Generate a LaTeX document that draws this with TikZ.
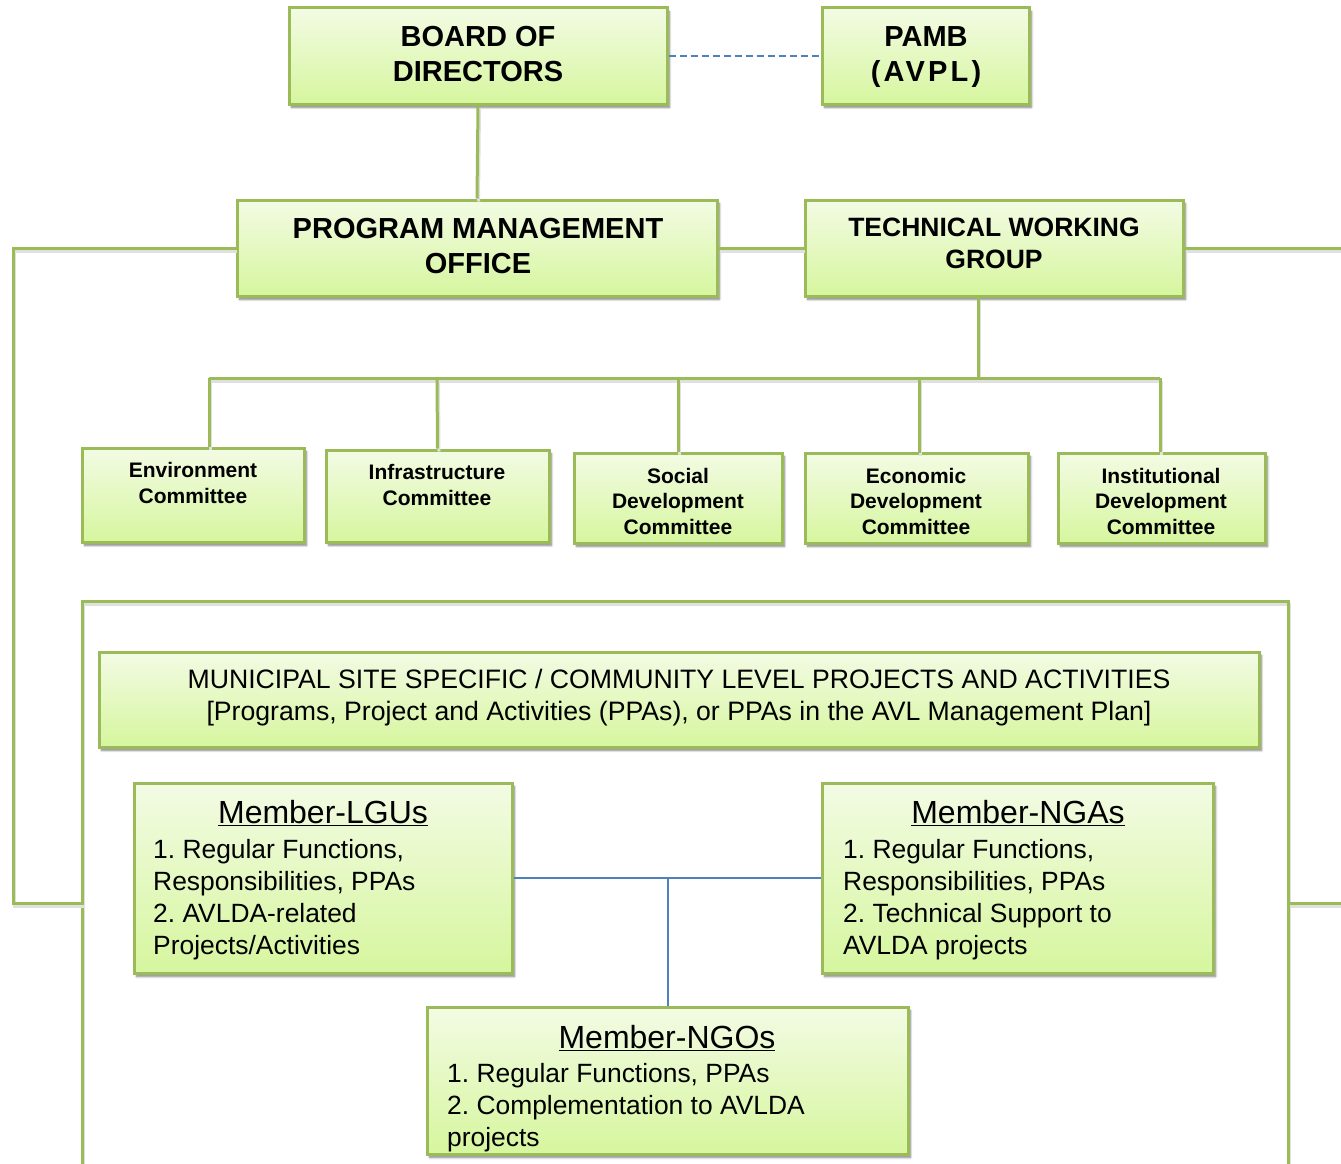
\documentclass[tikz,border=0pt]{standalone}
\usepackage{fontspec}
\setmainfont{Liberation Sans}
\usetikzlibrary{shadows,shadows.blur}
\definecolor{bgreen}{HTML}{9BBB59}
\definecolor{gtop}{RGB}{243,251,228}
\definecolor{gbot}{RGB}{214,246,158}
\definecolor{lblue}{HTML}{4F81BD}
\tikzset{
  obox/.style={draw=bgreen, line width=3pt, top color=gtop, bottom color=gbot, inner sep=0pt,
    blur shadow={shadow xshift=2.5pt, shadow yshift=-3.5pt, shadow blur steps=6, shadow opacity=50}},
  gline/.style={draw=bgreen, line width=3pt,
    preaction={draw=black!12, line width=3pt, transform canvas={shift={(1.5pt,-3pt)}}}},
  bline/.style={draw=lblue, line width=2pt},
  ttl/.style={font=\fontsize{29}{35}\selectfont\bfseries, align=center, inner sep=0pt},
  ttlb/.style={font=\fontsize{26.5}{32}\selectfont\bfseries, align=center, inner sep=0pt},
  cmt/.style={font=\fontsize{21}{25.5}\selectfont\bfseries, align=center, inner sep=0pt},
  mtitle/.style={font=\fontsize{32}{38}\selectfont, anchor=base, inner sep=0pt},
  mbody/.style={font=\fontsize{26.4}{32}\selectfont\frenchspacing, align=left, anchor=north west, inner sep=0pt},
}
\newcommand\mkbox[5]{\node[obox, minimum width={#4-#2}, minimum height={#5-#3}] (#1) at ({(#2+#4)/2},{(#3+#5)/2}) {};}
\begin{document}
\frenchspacing
\begin{tikzpicture}[x=1pt,y=-1pt]
\useasboundingbox (0,0) rectangle (1341,1164);
% outer open frame
\coordinate (outerL) at (82,903);
\coordinate (outerR) at (1288,903);
\draw[gline] (82,1175) -- (82,601) -- (1288,601) -- (1288,1175);

% boxes
\mkbox{bod}{289}{8}{667}{104}
\mkbox{pamb}{822}{8}{1029}{104}
\mkbox{pmo}{237}{200}{717}{296}
\mkbox{twg}{805}{200}{1183}{296}
\mkbox{env}{82}{448}{304}{542}
\mkbox{infra}{326}{450}{549}{542}
\mkbox{soc}{574}{453}{782}{543}
\mkbox{eco}{805}{453}{1028}{543}
\mkbox{inst}{1058}{453}{1265}{543}
\mkbox{muni}{99}{652}{1259}{747}
\mkbox{lgu}{134}{783}{512}{973}
\mkbox{nga}{822}{783}{1213}{973}
\mkbox{ngo}{427}{1007}{908}{1154}

% texts
\node[ttl] (bodT) at (478,54) {BOARD OF\\DIRECTORS};
\node[ttl] (pambT) at (926,57) {PAMB\\{\addfontfeature{LetterSpace=11}(AVPL)}};
\node[ttl] (pmoT) at (478,246) {PROGRAM MANAGEMENT\\OFFICE};
\node[ttlb] (twgT) at (994,243) {TECHNICAL WORKING\\GROUP};
\node[cmt] (envT) at (193,483) {Environment\\Committee};
\node[cmt] (infraT) at (437,485) {Infrastructure\\Committee};
\node[cmt] (socT) at (678,501) {Social\\Development\\Committee};
\node[cmt] (ecoT) at (916,501) {Economic\\Development\\Committee};
\node[cmt] (instT) at (1161,501) {Institutional\\Development\\Committee};
\node[font=\fontsize{26.65}{32}\selectfont, align=center, inner sep=0pt] (muniT) at (679,698)
  {MUNICIPAL SITE SPECIFIC / COMMUNITY LEVEL PROJECTS AND ACTIVITIES\\
   {[}Programs, Project and Activities (PPAs), or PPAs in the AVL Management Plan{]}};

\node[mtitle] (lguH) at (323,823) {\underline{Member-LGUs}};
\node[mbody] (lguB) at (153,839) {1. Regular Functions,\\Responsibilities, PPAs\\2. AVLDA-related\\Projects/Activities};
\node[mtitle] (ngaH) at (1018,823) {\underline{Member-NGAs}};
\node[mbody] (ngaB) at (843,839) {1. Regular Functions,\\Responsibilities, PPAs\\2. Technical Support to\\AVLDA projects};
\node[mtitle] (ngoH) at (667,1048) {\underline{Member-NGOs}};
\node[mbody] (ngoB) at (447,1063) {1. Regular Functions, PPAs\\2. Complementation to AVLDA\\projects};

% connectors
\draw[gline] (bod.south) -- (pmo.north);
\draw[bline, dash pattern=on 7pt off 4pt] (bod.east) -- (pamb.west);
\draw[gline] (pmo.east) -- (twg.west);
\coordinate (busL) at (209,378);
\coordinate (busR) at (1160,378);
\coordinate (busM) at (978,378);
\draw[gline] (busM |- twg.south) -- (busM);
\draw[gline] (busL) -- (busR);
\draw[gline] (busL) -- (busL |- env.north);
\draw[gline] (437,378) -- (infra.north);
\draw[gline] (678,378) -- (soc.north);
\draw[gline] (919,378) -- (919,453);
\draw[gline] (busR) -- (busR |- inst.north);
\coordinate (loopL) at (13,903);
\draw[gline] (pmo.west) -| (loopL) -- (outerL);
\coordinate (edgeR) at (1350,248);
\coordinate (edgeR2) at (1350,903);
\draw[gline] (twg.east) -- (edgeR);
\draw[gline] (outerR) -- (edgeR2);
\draw[bline] (lgu.east) -- (nga.west);
\coordinate (jn) at (668,878);
\draw[bline] (jn) -- (jn |- ngo.north);
\end{tikzpicture}
\end{document}
